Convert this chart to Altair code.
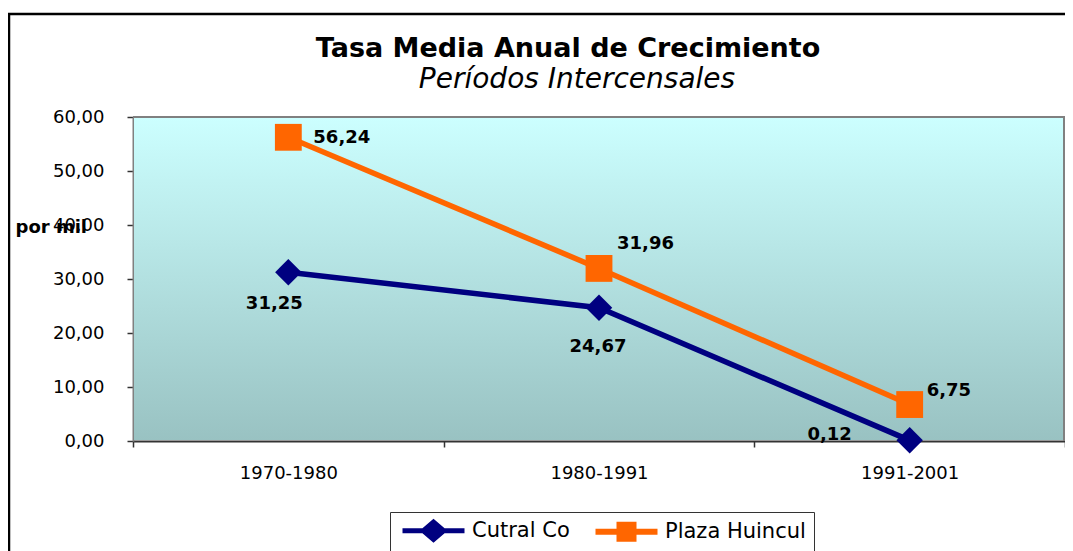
import altair as alt
import pandas as pd

# ---- data -------------------------------------------------------------
PERIODOS = ["1970-1980", "1980-1991", "1991-2001"]
SERIES = ["Cutral Co", "Plaza Huincul"]
CUTRAL_CO = [31.25, 24.67, 0.12]
PLAZA_HUINCUL = [56.24, 31.96, 6.75]
Y_TICKS = [0, 10, 20, 30, 40, 50, 60]
TITLE = "Tasa Media Anual de Crecimiento"
SUBTITLE = "Períodos Intercensales"
Y_TITLE = "por mil"

rows = []
for p, v in zip(PERIODOS, CUTRAL_CO):
    rows.append({"serie": "Cutral Co", "periodo": p, "valor": v})
for p, v in zip(PERIODOS, PLAZA_HUINCUL):
    rows.append({"serie": "Plaza Huincul", "periodo": p, "valor": v})
df = pd.DataFrame(rows)

# ---- style ------------------------------------------------------------
COLORS = {"Cutral Co": "#000080", "Plaza Huincul": "#FF6600"}
SHAPES = {"Cutral Co": ("diamond", 700), "Plaza Huincul": ("square", 720)}
FONT = "DejaVu Sans"
W, H = 932, 324

# label placement (dx, dy, align) per point, as in the original
LABEL_STYLE = {
    ("Plaza Huincul", "1970-1980"): (25, 1, "left"),
    ("Plaza Huincul", "1980-1991"): (18, -24, "left"),
    ("Plaza Huincul", "1991-2001"): (17, -14, "left"),
    ("Cutral Co", "1970-1980"): (-14, 32, "center"),
    ("Cutral Co", "1980-1991"): (-1, 39, "center"),
    ("Cutral Co", "1991-2001"): (-80, -5, "center"),
}

PATH_CC = "M-3.1,-0.25H3.1V0.25H-3.1Z M-1.4,0L0,-1.2L1.4,0L0,1.2Z"
PATH_PH = "M-3.1,-0.3H3.1V0.3H-3.1Z M-1,-1H1V1H-1Z"

x_enc = alt.X(
    "periodo:N",
    sort=PERIODOS,
    scale=alt.Scale(type="band", domain=PERIODOS, paddingInner=0, paddingOuter=0),
    axis=alt.Axis(
        title=None, labelAngle=0, tickBand="extent", labelFont=FONT, labelFontSize=18,
        labelColor="black", labelPadding=17, tickSize=6, tickColor="#333333", tickWidth=1.5,
        domainColor="#333333", domainWidth=2, grid=False,
    ),
)
y_enc = alt.Y(
    "valor:Q",
    scale=alt.Scale(domain=[0, 60], nice=False, zero=True),
    axis=alt.Axis(
        values=Y_TICKS, title=Y_TITLE, titleAngle=0, titleAlign="left",
        titleBaseline="middle", titleX=-118, titleY=110, titleFont=FONT,
        titleFontSize=18, titleFontWeight="bold", titleColor="black",
        labelExpr="replace(format(datum.value, '.2f'), '.', ',')",
        labelFont=FONT, labelFontSize=18, labelColor="black", labelPadding=23,
        tickSize=6, tickColor="#333333", tickWidth=1.5,
        domainColor="#808080", domainWidth=2, grid=False,
    ),
)

base = alt.Chart(df)
one = alt.Data(values=[{"k": 1}])

background = alt.Chart(one).mark_rect(
    color=alt.Gradient(
        gradient="linear",
        stops=[alt.GradientStop(color="#CCFFFF", offset=0),
               alt.GradientStop(color="#99C2C2", offset=1)],
        x1=0, x2=0, y1=0, y2=1,
    )
).encode(x=alt.value(1), x2=alt.value(W), y=alt.value(0), y2=alt.value(H - 1))

top_rule = alt.Chart(one).mark_rule(color="#808080", strokeWidth=2).encode(
    x=alt.value(0), x2=alt.value(W + 1), y=alt.value(0))
right_rule = alt.Chart(one).mark_rule(color="#808080", strokeWidth=2).encode(
    x=alt.value(W - 1), y=alt.value(-1), y2=alt.value(H))

frame = alt.Chart(one).mark_rect(filled=False, stroke="black", strokeWidth=2.5).encode(
    x=alt.value(-124), x2=alt.value(W + 40), y=alt.value(-103), y2=alt.value(H + 140))

title_main = alt.Chart(one).mark_text(
    text=TITLE, font=FONT, fontSize=27, fontWeight="bold", color="black",
    align="center", baseline="alphabetic",
).encode(x=alt.value(435), y=alt.value(-60))
title_sub = alt.Chart(one).mark_text(
    text=SUBTITLE, font=FONT, fontSize=28, fontStyle="italic", color="black",
    align="center", baseline="alphabetic",
).encode(x=alt.value(444), y=alt.value(-29))

series_layers = []
for s in SERIES:
    sub = base.transform_filter(alt.datum.serie == s)
    series_layers.append(
        sub.mark_line(strokeWidth=5.5, color=COLORS[s]).encode(x=x_enc, y=y_enc)
    )
for s in SERIES:
    shape, size = SHAPES[s]
    sub = base.transform_filter(alt.datum.serie == s)
    series_layers.append(
        sub.mark_point(shape=shape, filled=True, size=size, opacity=1, color=COLORS[s])
        .encode(x=x_enc, y=y_enc)
    )

label_layers = []
for (serie, periodo), (dx, dy, align) in LABEL_STYLE.items():
    label_layers.append(
        base.transform_filter(
            (alt.datum.serie == serie) & (alt.datum.periodo == periodo)
        ).transform_calculate(
            etiqueta="replace(format(datum.valor, '.2f'), '.', ',')"
        ).mark_text(
            font=FONT, fontSize=18, fontWeight="bold", color="black",
            align=align, baseline="middle", dx=dx, dy=dy,
        ).encode(x=x_enc, y=y_enc, text="etiqueta:N")
    )

legend_props = dict(
    title=None, orient="none", legendX=257, legendY=395, direction="horizontal",
    fillColor="white", strokeColor="#333333", padding=8,
    symbolSize=400, symbolOffset=25, labelOffset=28, columnPadding=21,
    labelFont=FONT, labelFontSize=21, labelColor="black",
    symbolOpacity=1, symbolStrokeWidth=0,
)
carrier = base.mark_point(filled=True, opacity=0, size=10).encode(
    x=x_enc, y=y_enc,
    color=alt.Color("serie:N",
                    scale=alt.Scale(domain=SERIES, range=[COLORS[s] for s in SERIES]),
                    legend=alt.Legend(**legend_props)),
    shape=alt.Shape("serie:N", scale=alt.Scale(domain=SERIES, range=[PATH_CC, PATH_PH]),
                    legend=alt.Legend(**legend_props)),
)

chart = alt.layer(
    background, top_rule, right_rule, frame, title_main, title_sub,
    *series_layers, *label_layers, carrier
).properties(
    width=W, height=H,
    autosize=alt.AutoSizeParams(type="none"),
    padding={"left": 125, "top": 109, "right": 0, "bottom": 110},
).configure_view(stroke=None).configure(font=FONT, background="white")

chart.save("out.html", embed_options={"renderer": "svg", "actions": False})
